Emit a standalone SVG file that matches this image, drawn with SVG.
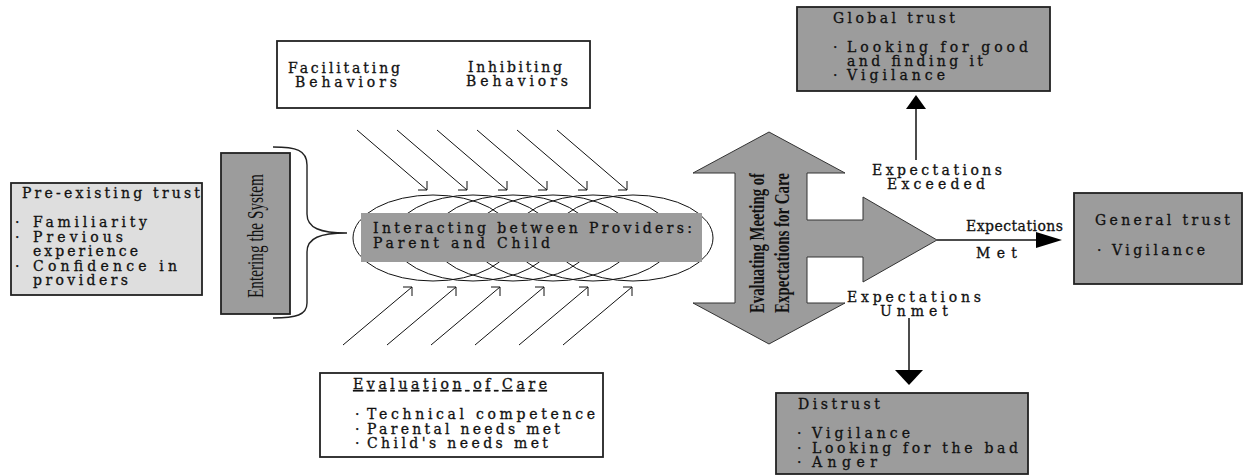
<svg xmlns="http://www.w3.org/2000/svg" width="1243" height="476" viewBox="0 0 1243 476">
  <defs>
    <style>
      .t { font-family: "DejaVu Serif", "Liberation Serif", serif; font-size: 14px; fill: #111; stroke: #111; stroke-width: 0.3; }
      .box { stroke: #222; stroke-width: 1.8; }
      .gray { fill: #9c9c9c; }
      .light { fill: #dedede; }
      .white { fill: #ffffff; }
      .ln { stroke: #111; stroke-width: 1; fill: none; }
      .rot { font-family: "Liberation Serif", "DejaVu Serif", serif; fill: #111; }
    </style>
  </defs>
  <rect width="1243" height="476" fill="#ffffff"/>

  <!-- Pre-existing trust -->
  <g id="pre-existing-trust">
    <rect class="box light" x="11" y="183" width="191" height="112"/>
    <text class="t" x="22" y="198" textLength="178">Pre-existing trust</text>
    <text class="t" x="15" y="227">·</text>
    <text class="t" x="33" y="227" textLength="114">Familiarity</text>
    <text class="t" x="15" y="242">·</text>
    <text class="t" x="33" y="242" textLength="90">Previous</text>
    <text class="t" x="33" y="256" textLength="105">experience</text>
    <text class="t" x="15" y="271">·</text>
    <text class="t" x="33" y="271" textLength="144">Confidence in</text>
    <text class="t" x="33" y="285" textLength="95">providers</text>
  </g>

  <!-- Entering the System -->
  <g id="entering-system">
    <rect class="box gray" x="221" y="153" width="69" height="161"/>
    <text class="rot" transform="translate(263,236) rotate(-90)" text-anchor="middle" font-size="23" textLength="124" lengthAdjust="spacingAndGlyphs">Entering the System</text>
  </g>

  <!-- Behaviors box -->
  <g id="behaviors">
    <rect class="box white" x="277" y="41" width="313" height="67"/>
    <text class="t" x="288" y="73" textLength="112">Facilitating</text>
    <text class="t" x="295" y="87" textLength="102">Behaviors</text>
    <text class="t" x="468" y="72" textLength="94">Inhibiting</text>
    <text class="t" x="466" y="86" textLength="102">Behaviors</text>
  </g>

  <!-- Interacting between providers -->
  <g id="interacting">
    <ellipse class="ln white" cx="433" cy="238" rx="80" ry="43"/>
    <ellipse class="ln white" cx="473" cy="238" rx="80" ry="43"/>
    <ellipse class="ln white" cx="513" cy="238" rx="80" ry="43"/>
    <ellipse class="ln white" cx="553" cy="238" rx="80" ry="43"/>
    <ellipse class="ln white" cx="593" cy="238" rx="80" ry="43"/>
    <ellipse class="ln white" cx="633" cy="238" rx="80" ry="43"/>
    <rect class="gray" x="361" y="213" width="341" height="49"/>
    <text class="t" x="373" y="233" textLength="319">Interacting between Providers:</text>
    <text class="t" x="373" y="248" textLength="177">Parent and Child</text>
  </g>

  <!-- Evaluation of Care -->
  <g id="evaluation-of-care">
    <rect class="box white" x="320" y="373" width="283" height="84"/>
    <text class="t" x="353" y="389" textLength="194" text-decoration="underline">Evaluation of Care</text>
    <text class="t" x="355" y="419">·</text>
    <text class="t" x="367" y="419" textLength="228">Technical competence</text>
    <text class="t" x="355" y="434">·</text>
    <text class="t" x="367" y="434" textLength="193">Parental needs met</text>
    <text class="t" x="355" y="448">·</text>
    <text class="t" x="367" y="448" textLength="181">Child's needs met</text>
  </g>

  <!-- Evaluating Meeting of Expectations for Care -->
  <g id="evaluating">
    <path class="gray" stroke="#333" stroke-width="1" d="M769,132 L845,173 L807,173 L807,220 L863,220 L863,197 L937,240 L863,282 L863,257 L807,257 L807,303 L845,303 L769,344 L693,303 L735,303 L735,173 L693,173 Z"/>
    <text class="rot" font-weight="bold" transform="translate(764,243) rotate(-90)" text-anchor="middle" font-size="20" textLength="140" lengthAdjust="spacingAndGlyphs">Evaluating Meeting of</text>
    <text class="rot" font-weight="bold" transform="translate(789,243) rotate(-90)" text-anchor="middle" font-size="20" textLength="140" lengthAdjust="spacingAndGlyphs">Expectations for Care</text>
  </g>

  <!-- Global trust -->
  <g id="global-trust">
    <rect class="box gray" x="797" y="7" width="253" height="84"/>
    <text class="t" x="833" y="23" textLength="122">Global trust</text>
    <text class="t" x="833" y="52">·</text>
    <text class="t" x="847" y="52" textLength="181">Looking for good</text>
    <text class="t" x="847" y="66" textLength="136">and finding it</text>
    <text class="t" x="833" y="80">·</text>
    <text class="t" x="847" y="80" textLength="98">Vigilance</text>
  </g>

  <!-- General trust -->
  <g id="general-trust">
    <rect class="box gray" x="1074" y="193" width="168" height="91"/>
    <text class="t" x="1095" y="225" textLength="135">General trust</text>
    <text class="t" x="1097" y="255">·</text>
    <text class="t" x="1112" y="255" textLength="93">Vigilance</text>
  </g>

  <!-- Distrust -->
  <g id="distrust">
    <rect class="box gray" x="776" y="393" width="252" height="81"/>
    <text class="t" x="798" y="409" textLength="82">Distrust</text>
    <text class="t" x="797" y="438">·</text>
    <text class="t" x="812" y="438" textLength="98">Vigilance</text>
    <text class="t" x="797" y="453">·</text>
    <text class="t" x="812" y="453" textLength="206">Looking for the bad</text>
    <text class="t" x="797" y="467">·</text>
    <text class="t" x="812" y="467" textLength="65">Anger</text>
  </g>

  <!-- Connectors -->
  <g id="connectors">
    <!-- brace grouping the entry stage -->
    <path stroke="#222" stroke-width="1.4" fill="none" d="M273,147 C296,147 307,150 307,165 L307,214 C307,228 320,233 347,233 C320,233 307,238 307,252 L307,303 C307,315 296,318 273,318"/>

    <!-- influences from above -->
    <g class="ln">
      <path d="M357,130 L427,190 M418,190 H427 V181"/>
      <path d="M397,130 L467,190 M458,190 H467 V181"/>
      <path d="M437,130 L507,190 M498,190 H507 V181"/>
      <path d="M477,130 L547,190 M538,190 H547 V181"/>
      <path d="M517,130 L587,190 M578,190 H587 V181"/>
      <path d="M557,130 L627,190 M618,190 H627 V181"/>
    </g>
    <!-- influences from below -->
    <g class="ln">
      <path d="M343,345 L412,287 M403,287 H412 V296"/>
      <path d="M387,345 L456,287 M447,287 H456 V296"/>
      <path d="M431,345 L500,287 M491,287 H500 V296"/>
      <path d="M475,345 L544,287 M535,287 H544 V296"/>
      <path d="M519,345 L588,287 M579,287 H588 V296"/>
      <path d="M563,345 L632,287 M623,287 H632 V296"/>
    </g>

    <!-- exceeded -->
    <line x1="916" y1="160" x2="916" y2="109" stroke="#111" stroke-width="1.5"/>
    <polygon points="916,95 906,109 926,109" fill="#000"/>
    <text class="t" x="872" y="175" textLength="130">Expectations</text>
    <text class="t" x="887" y="189" textLength="98">Exceeded</text>

    <!-- met -->
    <line x1="937" y1="240" x2="1036" y2="240" stroke="#111" stroke-width="1.5"/>
    <polygon points="1036,232 1062,240 1036,248" fill="#000"/>
    <text class="t" x="966" y="231" textLength="97">Expectations</text>
    <text class="t" x="976" y="258" textLength="41">Met</text>

    <!-- unmet -->
    <line x1="909" y1="318" x2="909" y2="371" stroke="#111" stroke-width="1.5"/>
    <polygon points="895,370 923,370 909,385" fill="#000"/>
    <text class="t" x="847" y="302" textLength="134">Expectations</text>
    <text class="t" x="880" y="316" textLength="68">Unmet</text>
  </g>
</svg>
